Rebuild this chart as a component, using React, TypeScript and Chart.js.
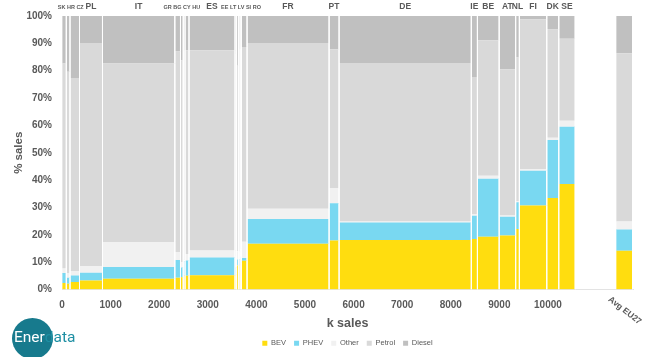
import React, { useEffect, useRef } from "react";
import { Chart, registerables } from "chart.js";

Chart.register(...registerables);

// ---- Data ----
const countries = ["SK", "HR", "CZ", "PL", "IT", "GR", "BG", "CY", "HU", "ES", "EE", "LT", "LV", "SI", "RO", "FR", "PT", "DE", "IE", "BE", "AT", "NL", "FI", "DK", "SE"];
const salesK = [88, 76, 196, 473, 1488, 117, 56, 37, 82, 947, 33, 41, 29, 27, 117, 1688, 206, 2721, 126, 447, 340, 76, 564, 247, 338];
const bevShare = [2.4, 2.1, 2.7, 3.3, 3.9, 4.3, 4.5, 5.0, 5.0, 5.2, 5.5, 8.8, 9.0, 10.0, 10.5, 16.7, 17.9, 18.1, 18.5, 19.3, 19.7, 22.1, 30.7, 33.5, 38.6];
const phevShare = [3.6, 2.2, 2.4, 2.8, 4.3, 6.5, 3.5, 5.2, 5.6, 6.5, 2.5, 2.2, 2.0, 2.0, 1.0, 9.1, 13.6, 6.4, 8.5, 21.2, 6.9, 9.8, 12.7, 21.2, 20.9];
const otherShare = [1.7, 1.7, 1.6, 2.5, 9.2, 2.8, 2.0, 0.6, 2.4, 2.6, 4.0, 3.0, 3.0, 3.0, 6.0, 3.7, 5.5, 0.4, 0.5, 1.1, 0.5, 0.5, 0.6, 0.8, 2.2];
const petrolShare = [74.9, 73.6, 70.6, 81.5, 65.2, 73.4, 73.8, 76.7, 74.5, 73.2, 74.0, 67.8, 74.0, 73.0, 71.2, 60.6, 50.8, 57.9, 50.2, 49.5, 53.4, 52.4, 54.8, 39.6, 30.0];
const dieselShare = [17.4, 20.4, 22.7, 9.9, 17.4, 13.0, 16.2, 12.5, 12.5, 12.5, 14.0, 18.2, 12.0, 12.0, 11.3, 9.9, 12.2, 17.2, 22.3, 8.9, 19.5, 15.2, 1.2, 4.9, 8.3];

const avgLabel = "Avg EU27";
const avgShares = [14.2, 7.7, 3.0, 61.5, 13.6]; // BEV, PHEV, Other, Petrol, Diesel

const segmentNames = ["BEV", "PHEV", "Other", "Petrol", "Diesel"];
const segmentColors = ["#FFDD0F", "#79D8F1", "#F1F1F1", "#D9D9D9", "#C0C0C0"];

const xTickValues = [0, 1000, 2000, 3000, 4000, 5000, 6000, 7000, 8000, 9000, 10000];
const yTickValues = [0, 10, 20, 30, 40, 50, 60, 70, 80, 90, 100];

const topLabelGroups = [
  ["SK", "HR", "CZ"], ["PL"], ["IT"], ["GR", "BG", "CY", "HU"], ["ES"],
  ["EE", "LT", "LV", "SI", "RO"], ["FR"], ["PT"], ["DE"], ["IE"], ["BE"],
  ["AT"], ["NL"], ["FI"], ["DK"], ["SE"],
];

// layout constants for the average column (k-sales axis units)
const AVG_START = 11400;
const AVG_WIDTH = 340;
const X_MAX = 11750;

const FONT = "'Liberation Sans', Arial, sans-serif";
const TEXT_COLOR = "#595959";
const SEPARATOR = "rgba(255,255,255,0.75)";

function buildColumns() {
  const cols: { x0: number; x1: number; shares: number[] }[] = [];
  let start = 0;
  countries.forEach((_, i) => {
    cols.push({
      x0: start,
      x1: start + salesK[i],
      shares: [bevShare[i], phevShare[i], otherShare[i], petrolShare[i], dieselShare[i]],
    });
    start += salesK[i];
  });
  cols.push({ x0: AVG_START, x1: AVG_START + AVG_WIDTH, shares: avgShares });
  return cols;
}

function buildDatasets() {
  const cols = buildColumns();
  const datasets: any[] = [];
  cols.forEach((c) => {
    let bottom = 0;
    c.shares.forEach((s, k) => {
      const top = bottom + s;
      datasets.push({
        type: "line",
        label: segmentNames[k],
        data: [
          { x: c.x0, y: bottom },
          { x: c.x0, y: top },
          { x: c.x1, y: top },
          { x: c.x1, y: bottom },
        ],
        fill: { value: bottom },
        backgroundColor: segmentColors[k],
        borderColor: "rgba(0,0,0,0)",
        borderWidth: 1,
        segment: {
          borderColor: (ctx: any) =>
            Math.abs(ctx.p0.x - ctx.p1.x) < 0.01 ? SEPARATOR : "rgba(0,0,0,0)",
        },
        pointRadius: 0,
        pointHoverRadius: 0,
        tension: 0,
      });
      bottom = top;
    });
  });
  return datasets;
}

const labelsPlugin = {
  id: "countryLabels",
  afterDraw(chart: any) {
    const xs = chart.scales.x;
    const ctx = chart.ctx;
    const starts: Record<string, number> = {};
    let acc = 0;
    countries.forEach((c, i) => {
      starts[c] = acc;
      acc += salesK[i];
    });
    ctx.save();
    ctx.fillStyle = TEXT_COLOR;
    ctx.textAlign = "center";
    ctx.textBaseline = "middle";
    topLabelGroups.forEach((g) => {
      const first = g[0];
      const last = g[g.length - 1];
      const v0 = starts[first];
      const v1 = starts[last] + salesK[countries.indexOf(last)];
      const px = (xs.getPixelForValue(v0) + xs.getPixelForValue(v1)) / 2;
      const small = g.length > 1;
      ctx.font = `bold ${small ? 5.5 : 8.5}px ${FONT}`;
      ctx.fillText(g.join(" "), px, 7);
    });
    // rotated label for the average column
    const ax = xs.getPixelForValue(AVG_START + AVG_WIDTH / 2);
    ctx.translate(ax - 15, chart.chartArea.bottom + 9);
    ctx.rotate((38 * Math.PI) / 180);
    ctx.textAlign = "left";
    ctx.textBaseline = "middle";
    ctx.font = `bold 8.5px ${FONT}`;
    ctx.fillText(avgLabel, 0, 0);
    ctx.restore();
  },
};

export default function App() {
  const ref = useRef<HTMLCanvasElement>(null);
  useEffect(() => {
    document.body.style.margin = "0";
    const chart = new Chart(ref.current as HTMLCanvasElement, {
      type: "line",
      data: { datasets: buildDatasets() },
      options: {
        animation: false,
        responsive: false,
        devicePixelRatio: 1,
        layout: { padding: { left: 10, right: 17, top: 15, bottom: 0 } },
        plugins: {
          tooltip: { enabled: false },
          legend: {
            position: "bottom",
            fullSize: false,
            labels: {
              filter: (item: any) => item.datasetIndex < 5,
              boxWidth: 5,
              boxHeight: 5,
              font: { family: FONT, size: 7.5 },
              color: TEXT_COLOR,
              padding: 8,
            },
          },
        },
        scales: {
          x: {
            type: "linear",
            min: 0,
            max: X_MAX,
            grid: { display: false, drawTicks: false },
            border: { display: true, color: "#E3E3E3" },
            afterBuildTicks: (scale: any) => {
              scale.ticks = xTickValues.map((v) => ({ value: v }));
            },
            afterFit: (scale: any) => {
              scale.height = 42;
            },
            ticks: {
              padding: 10,
              maxRotation: 0,
              autoSkip: false,
              color: TEXT_COLOR,
              font: { family: FONT, size: 10, weight: "bold" },
              callback: (v: any) => String(v),
            },
            title: {
              display: true,
              text: "k sales",
              color: TEXT_COLOR,
              font: { family: FONT, size: 12.5, weight: "bold" },
              padding: { top: 2, bottom: 0 },
            },
          },
          y: {
            min: 0,
            max: 100,
            grid: { display: false, drawTicks: false },
            border: { display: false },
            afterBuildTicks: (scale: any) => {
              scale.ticks = yTickValues.map((v) => ({ value: v }));
            },
            afterFit: (scale: any) => {
              scale.width = 52;
            },
            ticks: {
              padding: 10,
              color: TEXT_COLOR,
              font: { family: FONT, size: 10, weight: "bold" },
              callback: (v: any) => v + "%",
            },
            title: {
              display: true,
              text: "% sales",
              color: TEXT_COLOR,
              font: { family: FONT, size: 11.5, weight: "bold" },
              padding: 2,
            },
          },
        },
      },
      plugins: [labelsPlugin],
    } as any);
    return () => chart.destroy();
  }, []);

  return (
    <div style={{ position: "relative", width: 650, height: 357, overflow: "hidden", background: "#fff" }}>
      <canvas ref={ref} width={650} height={357} style={{ display: "block" }} />
      <div
        style={{
          position: "absolute",
          left: 12,
          top: 318,
          width: 41,
          height: 41,
          borderRadius: "50%",
          background: "#177A8D",
        }}
      />
      <div
        style={{
          position: "absolute",
          left: 14,
          top: 327,
          fontFamily: "Roboto, 'Open Sans', sans-serif",
          fontSize: 15.5,
          lineHeight: "20px",
          whiteSpace: "nowrap",
        }}
      >
        <span style={{ color: "#ffffff" }}>Ener</span>
        <span style={{ color: "#1E8FA3" }}>data</span>
      </div>
    </div>
  );
}
